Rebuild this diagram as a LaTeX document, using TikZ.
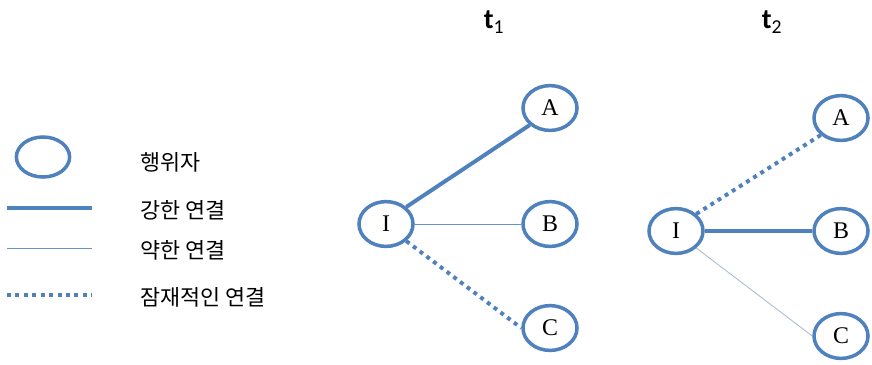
\documentclass[tikz,border=0pt]{standalone}
\usepackage{fontspec}
\setmainfont{Liberation Serif}
\newfontfamily\kofont{Noto Sans CJK KR}
\newfontfamily\tfont{Carlito}
\usetikzlibrary{shapes.geometric}
\definecolor{actorblue}{HTML}{4F81BD}
\definecolor{faintblue}{HTML}{A9B9CF}

\begin{document}
\begin{tikzpicture}[x=0.025cm, y=-0.025cm,
actor/.style={ellipse, draw=actorblue, line width=2.5pt, fill=white, minimum width=1.35cm, minimum height=1.12cm, inner sep=0pt, font=\fontsize{17}{17}\selectfont},
legendtext/.style={anchor=west, inner sep=0pt, font=\kofont\fontsize{15.5}{18}\selectfont},
timetext/.style={inner sep=0pt, font=\tfont\fontsize{20}{21}\selectfont},
strong/.style={draw=actorblue, line width=2.8pt},
weak/.style={draw=actorblue!85, line width=0.7pt},
faint/.style={draw=faintblue, line width=0.6pt},
latent/.style={draw=actorblue, line width=2.8pt, dash pattern=on 2.8pt off 3.2pt},
]

\useasboundingbox (0,0) rectangle (872,364);

% legend
\node[ellipse, draw=actorblue, line width=2.5pt,
      minimum width=1.33cm, minimum height=1cm] (legactor) at (43,157) {};
\node[legendtext] (legactortext)  at (140,162) {행위자};

\coordinate (strongL) at (7,208);
\coordinate (strongR) at (92,208);
\node[legendtext] (legstrongtext) at (140,210) {강한 연결};

\coordinate (weakL) at (7,248);
\coordinate (weakR) at (92,248);
\node[legendtext] (legweaktext)   at (140,250) {약한 연결};

\coordinate (latentL) at (7,295);
\coordinate (latentR) at (92,295);
\node[legendtext] (reglatenttext) at (140,297) {잠재적인 연결};

\draw[strong] (strongL) -- (strongR);
\draw[weak]   (weakL)   -- (weakR);
\draw[latent] (latentL) -- (latentR);

% time t1
\node[timetext] (tone) at (494,22) {\textbf{t}\textsubscript{1}};

\node[actor] (I1) at (386,224) {I};
\node[actor] (A1) at (550,108) {A};
\node[actor] (B1) at (550,224) {B};
\node[actor] (C1) at (550,328) {C};

\draw[strong] (I1.north east) -- (A1.south west);
\draw[weak]   (I1.east)       -- (B1.west);
\draw[latent] (I1.south east) -- (C1.west);

% time t2
\node[timetext] (ttwo) at (772,22) {\textbf{t}\textsubscript{2}};

\node[actor] (I2) at (676,231) {I};
\node[actor] (A2) at (841,118) {A};
\node[actor] (B2) at (841,231) {B};
\node[actor] (C2) at (841,336) {C};

\draw[latent] (I2.north east) -- (A2.south west);
\draw[strong] (I2.east)       -- (B2.west);
\draw[faint]  (I2.south east) -- (C2.west);

\end{tikzpicture}
\end{document}
